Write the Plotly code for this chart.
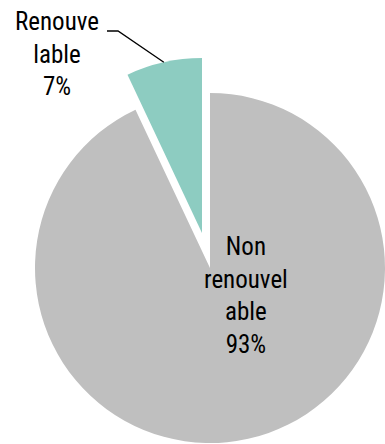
import math
import plotly.graph_objects as go

# Energy mix shares (percent); non-renewable first so the renewable slice
# ends at 12 o'clock on the left-hand side
labels = ["Non renouvelable", "Renouvelable"]
label_text = ["Non<br>renouvel<br>able", "Renouve<br>lable"]
shares = [93, 7]
colors = ["#bfbfbf", "#8dccc1"]

W, H = 385, 444
FONT = "Roboto Condensed, DejaVu Sans Condensed, Liberation Sans Narrow, Roboto, sans-serif"
FS = 25

# pie boxes in pixels: (left, top, size); the renewable slice is exploded up-left
MAIN_BOX = (35, 93, 350)
PULLED_BOX = (27, 58, 350)


def dom(box):
    x0, y0, size = box
    return dict(x=[x0 / W, (x0 + size) / W], y=[(H - y0 - size) / H, (H - y0) / H])


def px(x, y):
    return x / W, (H - y) / H


fig = go.Figure()

# main (non-renewable) slice
fig.add_trace(go.Pie(
    labels=labels, values=shares, sort=False, direction="clockwise", rotation=0,
    marker=dict(colors=[colors[0], "rgba(0,0,0,0)"], line=dict(width=0)),
    textinfo="none", automargin=False,
    domain=dom(MAIN_BOX), showlegend=False, hoverinfo="label+percent",
))

# exploded renewable slice
fig.add_trace(go.Pie(
    labels=labels, values=shares, sort=False, direction="clockwise", rotation=0,
    marker=dict(colors=["rgba(0,0,0,0)", colors[1]], line=dict(width=0)),
    textinfo="none", automargin=False,
    domain=dom(PULLED_BOX), showlegend=False, hoverinfo="label+percent",
))

# label inside the large slice
fig.add_annotation(
    x=246 / W, y=(H - 295) / H, xref="paper", yref="paper",
    xanchor="center", yanchor="middle", showarrow=False,
    text=label_text[0] + "<br>" + f"{shares[0]}%",
    font=dict(family=FONT, size=FS, color="black"),
)

# label for the small slice, with a leader line to the middle of its arc
fig.add_annotation(
    x=57 / W, y=(H - 54) / H, xref="paper", yref="paper",
    xanchor="center", yanchor="middle", showarrow=False, align="center",
    text=label_text[1] + "<br>" + f"{shares[1]}%",
    font=dict(family=FONT, size=FS, color="black"),
)
x0, y0, size = PULLED_BOX
r = size / 2
cx, cy = x0 + r, y0 + r
mid = math.radians(360 * shares[1] / sum(shares) / 2)
ax, ay = cx - r * math.sin(mid), cy - r * math.cos(mid)
p_arc = px(ax, ay)
p_elbow = px(118, 31)
p_end = px(107, 31)
fig.add_shape(
    type="path", xref="paper", yref="paper",
    path=f"M {p_arc[0]},{p_arc[1]} L {p_elbow[0]},{p_elbow[1]} L {p_end[0]},{p_end[1]}",
    line=dict(color="black", width=1.3),
)

fig.update_layout(
    width=W, height=H, margin=dict(l=0, r=0, t=0, b=0),
    paper_bgcolor="white", plot_bgcolor="white",
    font=dict(family=FONT, size=FS, color="black"),
)

fig.write_html("out.html")
